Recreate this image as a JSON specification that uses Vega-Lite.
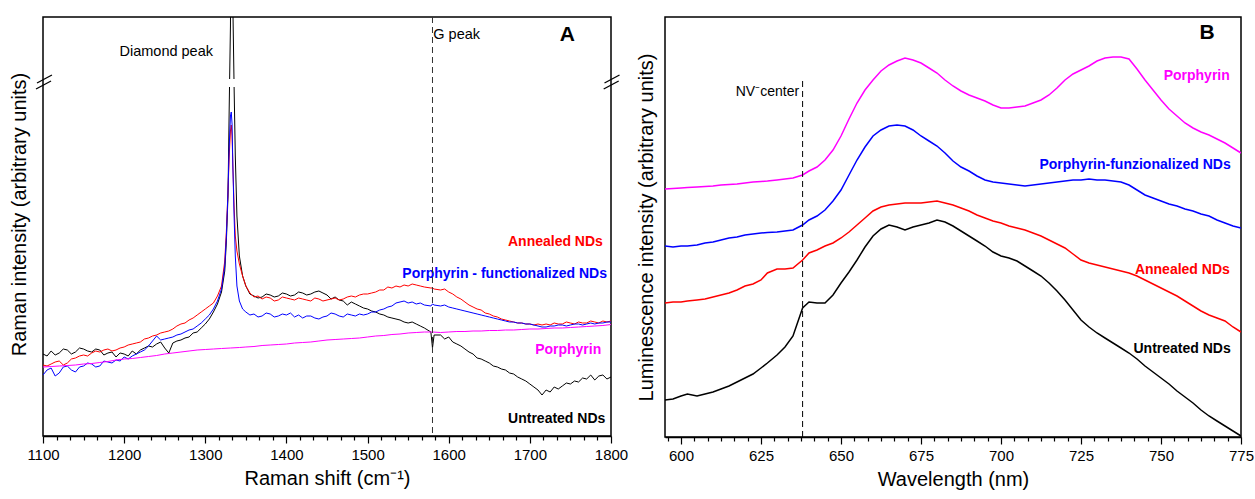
{
  "$schema": "https://vega.github.io/schema/vega-lite/v6.json",
  "padding": {"left": 8, "top": 15, "right": 0, "bottom": 0},
  "spacing": 6,
  "config": {
    "view": {"stroke": "#000000", "strokeWidth": 1.5},
    "font": "Liberation Sans",
    "axis": {"labelFont": "Liberation Sans", "labelFontSize": 15, "labelColor": "#000000", "titleFont": "Liberation Sans", "titleFontSize": 20, "titleFontWeight": "normal", "titleColor": "#000000", "domainColor": "#000000", "domainWidth": 1.5, "tickColor": "#000000", "tickWidth": 1.2, "grid": false, "labelPadding": 4, "titlePadding": 6, "labelOverlap": false, "labelFlush": false}
  },
  "datasets": {
    "raman": [
      {"x": 1100, "u": 82, "a": 71, "p": 61, "m": 69},
      {"x": 1105, "u": 80, "a": 70, "p": 66, "m": null},
      {"x": 1110, "u": 85, "a": 72, "p": 68, "m": 69.5},
      {"x": 1115, "u": 81, "a": 74, "p": 60, "m": null},
      {"x": 1120, "u": 83, "a": 75, "p": 63, "m": 70},
      {"x": 1125, "u": 87, "a": 71, "p": 69, "m": null},
      {"x": 1130, "u": 86, "a": 73, "p": 70, "m": 70.5},
      {"x": 1135, "u": 82, "a": 77, "p": 66, "m": null},
      {"x": 1140, "u": 84, "a": 78, "p": 64, "m": 71},
      {"x": 1145, "u": 88, "a": 80, "p": 69, "m": null},
      {"x": 1150, "u": 87, "a": 81, "p": 70, "m": 72},
      {"x": 1155, "u": 85, "a": 80, "p": 73, "m": null},
      {"x": 1160, "u": 84, "a": 83, "p": 72, "m": 72.5},
      {"x": 1165, "u": 87, "a": 85, "p": 69, "m": null},
      {"x": 1170, "u": 86, "a": 84, "p": 70, "m": 73.5},
      {"x": 1175, "u": 81, "a": 86, "p": 75, "m": null},
      {"x": 1180, "u": 83, "a": 87, "p": 74, "m": 74.5},
      {"x": 1185, "u": 84, "a": 85, "p": 73, "m": null},
      {"x": 1190, "u": 79, "a": 86, "p": 76, "m": 76},
      {"x": 1195, "u": 83, "a": 88, "p": 75, "m": null},
      {"x": 1200, "u": 82, "a": 89, "p": 79, "m": 77},
      {"x": 1205, "u": 80, "a": 91, "p": 77, "m": null},
      {"x": 1210, "u": 85, "a": 92, "p": 80, "m": 77.5},
      {"x": 1215, "u": 82, "a": 93, "p": 82, "m": null},
      {"x": 1220, "u": 86, "a": 94, "p": 84, "m": 78.5},
      {"x": 1225, "u": 88, "a": 97, "p": 86, "m": null},
      {"x": 1230, "u": 90, "a": 98, "p": 90, "m": 79.5},
      {"x": 1235, "u": 89, "a": 100, "p": 95, "m": null},
      {"x": 1240, "u": 92, "a": 101, "p": 100, "m": 80.5},
      {"x": 1245, "u": 94, "a": 103, "p": 96, "m": null},
      {"x": 1250, "u": 88, "a": 104, "p": 97, "m": 82},
      {"x": 1255, "u": 83, "a": 105, "p": 98, "m": null},
      {"x": 1260, "u": 93, "a": 107, "p": 99, "m": 83},
      {"x": 1265, "u": 95, "a": 110, "p": 101, "m": null},
      {"x": 1270, "u": 96, "a": 112, "p": 102, "m": 84},
      {"x": 1275, "u": 98, "a": 113, "p": 104, "m": null},
      {"x": 1280, "u": 99, "a": 116, "p": 106, "m": 85},
      {"x": 1285, "u": 103, "a": 118, "p": 107, "m": null},
      {"x": 1290, "u": 104, "a": 121, "p": 110, "m": 86},
      {"x": 1295, "u": 108, "a": 124, "p": 113, "m": null},
      {"x": 1300, "u": 112, "a": 127, "p": 117, "m": 86.5},
      {"x": 1305, "u": 117, "a": 130, "p": 121, "m": null},
      {"x": 1310, "u": 124, "a": 133, "p": 127, "m": 87},
      {"x": 1315, "u": 132, "a": 140, "p": 135, "m": null},
      {"x": 1320, "u": 144, "a": 150, "p": 147, "m": 87.5},
      {"x": 1324, "u": 165, "a": 175, "p": 170, "m": null},
      {"x": 1326, "u": 195, "a": 205, "p": 200, "m": null},
      {"x": 1328, "u": 240, "a": 245, "p": 245, "m": null},
      {"x": 1329.5, "u": 330, "a": 280, "p": 290, "m": null},
      {"x": 1331, "u": 410, "a": 305, "p": 320, "m": 88},
      {"x": 1332, "u": 520, "a": 311, "p": 324, "m": null},
      {"x": 1333, "u": 520, "a": 300, "p": 312, "m": null},
      {"x": 1334, "u": 430, "a": 270, "p": 270, "m": null},
      {"x": 1335.5, "u": 350, "a": 230, "p": 220, "m": null},
      {"x": 1337, "u": 280, "a": 200, "p": 180, "m": null},
      {"x": 1339, "u": 220, "a": 185, "p": 150, "m": null},
      {"x": 1342, "u": 180, "a": 172, "p": 135, "m": 88.5},
      {"x": 1346, "u": 160, "a": 160, "p": 127, "m": null},
      {"x": 1350, "u": 150, "a": 150, "p": 124, "m": 89},
      {"x": 1355, "u": 142, "a": 143, "p": 121, "m": null},
      {"x": 1360, "u": 140, "a": 139, "p": 122, "m": 89.5},
      {"x": 1365, "u": 138, "a": 140, "p": 119, "m": null},
      {"x": 1370, "u": 139, "a": 137, "p": 120, "m": 90.5},
      {"x": 1375, "u": 142, "a": 139, "p": 123, "m": null},
      {"x": 1380, "u": 141, "a": 138, "p": 122, "m": 91},
      {"x": 1385, "u": 139, "a": 135, "p": 119, "m": null},
      {"x": 1390, "u": 140, "a": 136, "p": 120, "m": 91.5},
      {"x": 1395, "u": 143, "a": 139, "p": 122, "m": null},
      {"x": 1400, "u": 142, "a": 138, "p": 121, "m": 92},
      {"x": 1405, "u": 140, "a": 137, "p": 123, "m": null},
      {"x": 1410, "u": 141, "a": 136, "p": 119, "m": 93},
      {"x": 1415, "u": 144, "a": 138, "p": 121, "m": null},
      {"x": 1420, "u": 143, "a": 137, "p": 118, "m": 93.5},
      {"x": 1425, "u": 141, "a": 136, "p": 120, "m": null},
      {"x": 1430, "u": 142, "a": 135, "p": 120, "m": 94},
      {"x": 1435, "u": 144, "a": 138, "p": 118, "m": null},
      {"x": 1440, "u": 145, "a": 137, "p": 117, "m": 95},
      {"x": 1445, "u": 143, "a": 135, "p": 119, "m": null},
      {"x": 1450, "u": 141, "a": 136, "p": 120, "m": 96},
      {"x": 1455, "u": 137, "a": 137, "p": 123, "m": null},
      {"x": 1460, "u": 139, "a": 138, "p": 122, "m": 96.5},
      {"x": 1465, "u": 136, "a": 136, "p": 120, "m": null},
      {"x": 1470, "u": 135, "a": 137, "p": 119, "m": 97},
      {"x": 1475, "u": 131, "a": 139, "p": 122, "m": null},
      {"x": 1480, "u": 134, "a": 140, "p": 121, "m": 97.5},
      {"x": 1485, "u": 132, "a": 139, "p": 120, "m": null},
      {"x": 1490, "u": 130, "a": 141, "p": 122, "m": 98},
      {"x": 1495, "u": 128, "a": 142, "p": 121, "m": null},
      {"x": 1500, "u": 127, "a": 142, "p": 122, "m": 99},
      {"x": 1505, "u": 125, "a": 143, "p": 124, "m": null},
      {"x": 1510, "u": 124, "a": 144, "p": 124, "m": 100},
      {"x": 1515, "u": 122, "a": 146, "p": 126, "m": null},
      {"x": 1520, "u": 121, "a": 146, "p": 127, "m": 100.5},
      {"x": 1525, "u": 119, "a": 149, "p": 129, "m": null},
      {"x": 1530, "u": 118, "a": 148, "p": 130, "m": 101.5},
      {"x": 1535, "u": 117, "a": 150, "p": 133, "m": null},
      {"x": 1540, "u": 116, "a": 149, "p": 134, "m": 102},
      {"x": 1545, "u": 114, "a": 151, "p": 135, "m": null},
      {"x": 1550, "u": 113, "a": 150, "p": 133, "m": 103},
      {"x": 1555, "u": 114, "a": 152, "p": 134, "m": null},
      {"x": 1560, "u": 112, "a": 151, "p": 132, "m": 103.5},
      {"x": 1565, "u": 110, "a": 150, "p": 133, "m": null},
      {"x": 1570, "u": 108, "a": 149, "p": 131, "m": 104},
      {"x": 1578, "u": 104, "a": 148, "p": 130, "m": null},
      {"x": 1580, "u": 88, "a": 148, "p": 132, "m": 104},
      {"x": 1582, "u": 101, "a": 147, "p": 131, "m": null},
      {"x": 1590, "u": 101, "a": 146, "p": 130, "m": 103.5},
      {"x": 1595, "u": 97, "a": 147, "p": 131, "m": null},
      {"x": 1600, "u": 99, "a": 144, "p": 129, "m": 104},
      {"x": 1605, "u": 94, "a": 142, "p": 128, "m": null},
      {"x": 1610, "u": 92, "a": 139, "p": 127, "m": 104.5},
      {"x": 1615, "u": 90, "a": 137, "p": 126, "m": null},
      {"x": 1620, "u": 87, "a": 134, "p": 125, "m": 104.5},
      {"x": 1625, "u": 84, "a": 131, "p": 124, "m": null},
      {"x": 1630, "u": 82, "a": 129, "p": 123, "m": 105},
      {"x": 1635, "u": 78, "a": 127, "p": 122, "m": null},
      {"x": 1640, "u": 77, "a": 126, "p": 121, "m": 105},
      {"x": 1645, "u": 75, "a": 123, "p": 120, "m": null},
      {"x": 1650, "u": 73, "a": 122, "p": 119, "m": 105.5},
      {"x": 1655, "u": 70, "a": 120, "p": 118, "m": null},
      {"x": 1660, "u": 69, "a": 119, "p": 117, "m": 105.5},
      {"x": 1665, "u": 67, "a": 117, "p": 116, "m": null},
      {"x": 1670, "u": 66, "a": 116, "p": 115, "m": 106},
      {"x": 1675, "u": 63, "a": 115, "p": 114, "m": null},
      {"x": 1680, "u": 62, "a": 114, "p": 114, "m": 106},
      {"x": 1685, "u": 59, "a": 113, "p": 113, "m": null},
      {"x": 1690, "u": 57, "a": 113, "p": 113, "m": 106.5},
      {"x": 1695, "u": 55, "a": 112, "p": 112, "m": null},
      {"x": 1700, "u": 52, "a": 112, "p": 112, "m": 107},
      {"x": 1705, "u": 49, "a": 111, "p": 111, "m": null},
      {"x": 1710, "u": 46, "a": 112, "p": 110, "m": 107},
      {"x": 1715, "u": 41, "a": 111, "p": 109, "m": null},
      {"x": 1720, "u": 46, "a": 112, "p": 109, "m": 107.5},
      {"x": 1725, "u": 44, "a": 111, "p": 110, "m": null},
      {"x": 1730, "u": 49, "a": 113, "p": 110, "m": 108},
      {"x": 1735, "u": 47, "a": 112, "p": 111, "m": null},
      {"x": 1740, "u": 50, "a": 112, "p": 111, "m": 108},
      {"x": 1745, "u": 53, "a": 114, "p": 110, "m": null},
      {"x": 1750, "u": 52, "a": 113, "p": 111, "m": 108.5},
      {"x": 1755, "u": 55, "a": 112, "p": 112, "m": null},
      {"x": 1760, "u": 54, "a": 114, "p": 112, "m": 109},
      {"x": 1765, "u": 58, "a": 113, "p": 111, "m": null},
      {"x": 1770, "u": 57, "a": 113, "p": 112, "m": 109.5},
      {"x": 1775, "u": 61, "a": 115, "p": 113, "m": null},
      {"x": 1780, "u": 56, "a": 114, "p": 112, "m": 110},
      {"x": 1785, "u": 60, "a": 113, "p": 113, "m": null},
      {"x": 1790, "u": 61, "a": 115, "p": 113, "m": 110.5},
      {"x": 1795, "u": 57, "a": 114, "p": 114, "m": null},
      {"x": 1800, "u": 59, "a": 115, "p": 114, "m": 111.5}
    ],
    "lum": [
      {"x": 595, "u": 37, "a": 134, "p": 191, "m": 248},
      {"x": 597.5, "u": 38, "a": 135, "p": 190, "m": 248.5},
      {"x": 600, "u": 41, "a": 135, "p": 191, "m": 249},
      {"x": 602, "u": 43, "a": 136, "p": 191, "m": 249.5},
      {"x": 605, "u": 41, "a": 137, "p": 192, "m": 250},
      {"x": 607.5, "u": 43, "a": 138, "p": 194, "m": 250.5},
      {"x": 610, "u": 45, "a": 140, "p": 195, "m": 251},
      {"x": 612.5, "u": 48, "a": 142, "p": 197, "m": 252},
      {"x": 615, "u": 51, "a": 144, "p": 199, "m": 252.5},
      {"x": 617.5, "u": 55, "a": 147, "p": 200, "m": 253},
      {"x": 620, "u": 59, "a": 151, "p": 202, "m": 254},
      {"x": 622.5, "u": 63, "a": 153, "p": 203, "m": 255},
      {"x": 625, "u": 69, "a": 157, "p": 204, "m": 255.5},
      {"x": 627, "u": 74, "a": 164, "p": 204.5, "m": 256},
      {"x": 630, "u": 82, "a": 168, "p": 205, "m": 257},
      {"x": 632.5, "u": 90, "a": 168, "p": 206, "m": 258},
      {"x": 635, "u": 101, "a": 169, "p": 207, "m": 259},
      {"x": 638, "u": 129, "a": 177, "p": 212, "m": 262},
      {"x": 640, "u": 135, "a": 184, "p": 217, "m": 266},
      {"x": 642.5, "u": 134, "a": 187, "p": 221, "m": 270},
      {"x": 645, "u": 134, "a": 191, "p": 227, "m": 277},
      {"x": 647.5, "u": 142, "a": 194, "p": 236, "m": 287},
      {"x": 650, "u": 154, "a": 199, "p": 247, "m": 301},
      {"x": 652.5, "u": 165, "a": 205, "p": 262, "m": 318},
      {"x": 655, "u": 177, "a": 212, "p": 277, "m": 334},
      {"x": 657.5, "u": 190, "a": 219, "p": 290, "m": 347},
      {"x": 660, "u": 201, "a": 226, "p": 301, "m": 357},
      {"x": 662.5, "u": 208, "a": 230, "p": 307, "m": 366},
      {"x": 665, "u": 212, "a": 232, "p": 311, "m": 372},
      {"x": 667.5, "u": 210, "a": 233, "p": 312, "m": 376},
      {"x": 670, "u": 207, "a": 234, "p": 311, "m": 379},
      {"x": 672.5, "u": 210, "a": 234, "p": 307, "m": 377},
      {"x": 675, "u": 212, "a": 234, "p": 301, "m": 374},
      {"x": 677.5, "u": 214, "a": 235, "p": 296, "m": 369},
      {"x": 680, "u": 217, "a": 236, "p": 291, "m": 364},
      {"x": 682.5, "u": 215, "a": 234, "p": 284, "m": 357},
      {"x": 685, "u": 211, "a": 232, "p": 276, "m": 351},
      {"x": 687.5, "u": 206, "a": 229, "p": 270, "m": 346},
      {"x": 690, "u": 201, "a": 226, "p": 266, "m": 342},
      {"x": 692.5, "u": 196, "a": 222, "p": 261, "m": 339},
      {"x": 695, "u": 191, "a": 219, "p": 257, "m": 336},
      {"x": 697.5, "u": 185, "a": 216, "p": 255, "m": 332},
      {"x": 700, "u": 181, "a": 214, "p": 254, "m": 329},
      {"x": 702.5, "u": 179, "a": 211, "p": 253, "m": 329},
      {"x": 705, "u": 176, "a": 209, "p": 252, "m": 330},
      {"x": 707.5, "u": 171, "a": 207, "p": 251, "m": 331},
      {"x": 710, "u": 166, "a": 204, "p": 252, "m": 334},
      {"x": 712.5, "u": 161, "a": 201, "p": 253, "m": 337},
      {"x": 715, "u": 154, "a": 197, "p": 254, "m": 342},
      {"x": 717.5, "u": 146, "a": 193, "p": 255, "m": 349},
      {"x": 720, "u": 137, "a": 189, "p": 256, "m": 357},
      {"x": 722.5, "u": 127, "a": 183, "p": 257, "m": 363},
      {"x": 725, "u": 117, "a": 177, "p": 257, "m": 367},
      {"x": 727.5, "u": 110, "a": 174, "p": 258, "m": 371},
      {"x": 730, "u": 104, "a": 172, "p": 257, "m": 376},
      {"x": 732.5, "u": 99, "a": 170, "p": 257, "m": 379},
      {"x": 735, "u": 94, "a": 168, "p": 256, "m": 380},
      {"x": 737.5, "u": 89, "a": 166, "p": 255, "m": 380},
      {"x": 740, "u": 84, "a": 164, "p": 252, "m": 378},
      {"x": 742.5, "u": 78, "a": 161, "p": 247, "m": 368},
      {"x": 745, "u": 71, "a": 157, "p": 242, "m": 357},
      {"x": 747.5, "u": 65, "a": 153, "p": 239, "m": 347},
      {"x": 750, "u": 59, "a": 149, "p": 236, "m": 337},
      {"x": 752.5, "u": 53, "a": 145, "p": 233, "m": 328},
      {"x": 755, "u": 46, "a": 141, "p": 231, "m": 321},
      {"x": 757.5, "u": 40, "a": 136, "p": 228, "m": 314},
      {"x": 760, "u": 34, "a": 131, "p": 226, "m": 309},
      {"x": 762.5, "u": 27, "a": 126, "p": 223, "m": 305},
      {"x": 765, "u": 21, "a": 122, "p": 221, "m": 302},
      {"x": 767.5, "u": 16, "a": 119, "p": 217, "m": 298},
      {"x": 770, "u": 11, "a": 116, "p": 214, "m": 294},
      {"x": 772.5, "u": 6, "a": 110, "p": 211, "m": 289},
      {"x": 775, "u": 1, "a": 105, "p": 209, "m": 284}
    ],
    "labelsA": [
      {"s": "a", "label": "Annealed NDs", "x": 1790, "y": 194},
      {"s": "p", "label": "Porphyrin - functionalized NDs", "x": 1795, "y": 162},
      {"s": "m", "label": "Porphyrin", "x": 1788, "y": 86},
      {"s": "u", "label": "Untreated NDs", "x": 1793, "y": 17}
    ],
    "labelsB": [
      {"s": "m", "label": "Porphyrin", "x": 771.5, "y": 361},
      {"s": "p", "label": "Porphyrin-funzionalized NDs", "x": 771.8, "y": 272},
      {"s": "a", "label": "Annealed NDs", "x": 771.5, "y": 167},
      {"s": "u", "label": "Untreated NDs", "x": 771.8, "y": 88}
    ]
  },
  "hconcat": [
    {
      "width": 568,
      "height": 419,
      "resolve": {"axis": {"x": "independent"}},
      "layer": [
        {
          "layer": [
            {
              "data": {"name": "raman"},
              "transform": [{"fold": ["u", "a", "p", "m"], "as": ["s", "v"]}, {"filter": "isValid(datum.v)"}],
              "mark": {"type": "line", "clip": true, "strokeWidth": 1},
              "encoding": {
                "x": {"field": "x", "type": "quantitative", "scale": {"domain": [1100, 1800], "nice": false, "zero": false},
                  "axis": {"title": "Raman shift (cm⁻¹)", "orient": "bottom", "values": [1100, 1200, 1300, 1400, 1500, 1600, 1700, 1800], "format": "d", "tickSize": 7}},
                "y": {"field": "v", "type": "quantitative", "scale": {"domain": [0, 419], "nice": false, "zero": false},
                  "axis": {"title": "Raman intensity (arbitrary units)", "ticks": false, "labels": false, "domain": false, "titlePadding": 14, "titleY": 197}},
                "color": {"field": "s", "type": "nominal", "scale": {"domain": ["u", "a", "p", "m"], "range": ["#000000", "#ff0000", "#0000ff", "#ff00ff"]}, "legend": null}
              }
            },
            {
              "data": {"values": [{"x1": 1326, "x2": 1339, "y1": 349, "y2": 357}]},
              "mark": {"type": "rect", "fill": "#ffffff"},
              "encoding": {
                "x": {"field": "x1", "type": "quantitative", "scale": {"domain": [1100, 1800], "nice": false, "zero": false}},
                "x2": {"field": "x2"},
                "y": {"field": "y1", "type": "quantitative", "scale": {"domain": [0, 419], "nice": false, "zero": false}},
                "y2": {"field": "y2"}
              }
            },
            {
              "data": {"values": [
                {"x1": 1091.4, "y1": 347, "x2": 1109.9, "y2": 355},
                {"x1": 1092.6, "y1": 353, "x2": 1111, "y2": 361},
                {"x1": 1791, "y1": 347, "x2": 1809.5, "y2": 355},
                {"x1": 1792, "y1": 353, "x2": 1810.5, "y2": 361}
              ]},
              "mark": {"type": "rule", "color": "#000000", "strokeWidth": 1.3},
              "encoding": {
                "x": {"field": "x1", "type": "quantitative", "scale": {"domain": [1100, 1800], "nice": false, "zero": false}},
                "x2": {"field": "x2"},
                "y": {"field": "y1", "type": "quantitative", "scale": {"domain": [0, 419], "nice": false, "zero": false}},
                "y2": {"field": "y2"}
              }
            },
            {
              "data": {"name": "labelsA"},
              "mark": {"type": "text", "align": "right", "baseline": "middle", "fontSize": 14, "fontWeight": "bold", "font": "Liberation Sans"},
              "encoding": {
                "x": {"field": "x", "type": "quantitative", "scale": {"domain": [1100, 1800], "nice": false, "zero": false}},
                "y": {"field": "y", "type": "quantitative", "scale": {"domain": [0, 419], "nice": false, "zero": false}},
                "text": {"field": "label"},
                "color": {"field": "s", "type": "nominal", "scale": {"domain": ["u", "a", "p", "m"], "range": ["#000000", "#ff0000", "#0000ff", "#ff00ff"]}, "legend": null}
              }
            },
            {
              "data": {"values": [
                {"label": "Diamond peak", "x": 1309.5, "y": 384, "al": "right"},
                {"label": "G peak", "x": 1581, "y": 401, "al": "left"}
              ]},
              "mark": {"type": "text", "baseline": "middle", "fontSize": 14.5, "font": "Liberation Sans", "color": "#000000", "align": {"expr": "datum.al"}},
              "encoding": {
                "x": {"field": "x", "type": "quantitative", "scale": {"domain": [1100, 1800], "nice": false, "zero": false}},
                "y": {"field": "y", "type": "quantitative", "scale": {"domain": [0, 419], "nice": false, "zero": false}},
                "text": {"field": "label"}
              }
            },
            {
              "data": {"values": [{"label": "A", "x": 1755.6, "y": 401}]},
              "mark": {"type": "text", "align": "right", "baseline": "middle", "fontSize": 21, "fontWeight": "bold", "font": "Liberation Sans", "color": "#000000"},
              "encoding": {
                "x": {"field": "x", "type": "quantitative", "scale": {"domain": [1100, 1800], "nice": false, "zero": false}},
                "y": {"field": "y", "type": "quantitative", "scale": {"domain": [0, 419], "nice": false, "zero": false}},
                "text": {"field": "label"}
              }
            }
          ]
        },
        {
          "data": {"values": [{"x": 1580}]},
          "mark": {"type": "rule", "color": "#333333", "strokeDash": [6, 4], "strokeWidth": 1},
          "encoding": {
            "x": {"field": "x", "type": "quantitative", "scale": {"domain": [1100, 1800], "nice": false, "zero": false},
              "axis": {"orient": "bottom", "title": null, "labels": false, "domain": false, "tickSize": 4,
                "values": [1116.667, 1133.333, 1150, 1166.667, 1183.333, 1216.667, 1233.333, 1250, 1266.667, 1283.333, 1316.667, 1333.333, 1350, 1366.667, 1383.333, 1416.667, 1433.333, 1450, 1466.667, 1483.333, 1516.667, 1533.333, 1550, 1566.667, 1583.333, 1616.667, 1633.333, 1650, 1666.667, 1683.333, 1716.667, 1733.333, 1750, 1766.667, 1783.333]}}
          }
        }
      ]
    },
    {
      "width": 576,
      "height": 420,
      "resolve": {"axis": {"x": "independent"}},
      "layer": [
        {
          "layer": [
            {
              "data": {"name": "lum"},
              "transform": [{"fold": ["u", "a", "p", "m"], "as": ["s", "v"]}, {"filter": "isValid(datum.v)"}],
              "mark": {"type": "line", "clip": true, "strokeWidth": 1.5},
              "encoding": {
                "x": {"field": "x", "type": "quantitative", "scale": {"domain": [595, 775], "nice": false, "zero": false},
                  "axis": {"title": "Wavelength (nm)", "orient": "bottom", "values": [600, 625, 650, 675, 700, 725, 750, 775], "format": "d", "tickSize": 7}},
                "y": {"field": "v", "type": "quantitative", "scale": {"domain": [0, 420], "nice": false, "zero": false},
                  "axis": {"title": "Luminescence intensity (arbitrary units)", "ticks": false, "labels": false, "domain": false, "titlePadding": 9}},
                "color": {"field": "s", "type": "nominal", "scale": {"domain": ["u", "a", "p", "m"], "range": ["#000000", "#ff0000", "#0000ff", "#ff00ff"]}, "legend": null}
              }
            },
            {
              "data": {"name": "labelsB"},
              "mark": {"type": "text", "align": "right", "baseline": "middle", "fontSize": 14, "fontWeight": "bold", "font": "Liberation Sans"},
              "encoding": {
                "x": {"field": "x", "type": "quantitative", "scale": {"domain": [595, 775], "nice": false, "zero": false}},
                "y": {"field": "y", "type": "quantitative", "scale": {"domain": [0, 420], "nice": false, "zero": false}},
                "text": {"field": "label"},
                "color": {"field": "s", "type": "nominal", "scale": {"domain": ["u", "a", "p", "m"], "range": ["#000000", "#ff0000", "#0000ff", "#ff00ff"]}, "legend": null}
              }
            },
            {
              "data": {"values": [{"label": "NV⁻center", "x": 636.9, "y": 345}]},
              "mark": {"type": "text", "align": "right", "baseline": "middle", "fontSize": 14, "font": "Liberation Sans", "color": "#000000"},
              "encoding": {
                "x": {"field": "x", "type": "quantitative", "scale": {"domain": [595, 775], "nice": false, "zero": false}},
                "y": {"field": "y", "type": "quantitative", "scale": {"domain": [0, 420], "nice": false, "zero": false}},
                "text": {"field": "label"}
              }
            },
            {
              "data": {"values": [{"label": "B", "x": 766.8, "y": 404}]},
              "mark": {"type": "text", "align": "right", "baseline": "middle", "fontSize": 21, "fontWeight": "bold", "font": "Liberation Sans", "color": "#000000"},
              "encoding": {
                "x": {"field": "x", "type": "quantitative", "scale": {"domain": [595, 775], "nice": false, "zero": false}},
                "y": {"field": "y", "type": "quantitative", "scale": {"domain": [0, 420], "nice": false, "zero": false}},
                "text": {"field": "label"}
              }
            }
          ]
        },
        {
          "data": {"values": [{"x": 638, "y1": 0, "y2": 357}]},
          "mark": {"type": "rule", "color": "#000000", "strokeDash": [6, 4], "strokeWidth": 1},
          "encoding": {
            "x": {"field": "x", "type": "quantitative", "scale": {"domain": [595, 775], "nice": false, "zero": false},
              "axis": {"orient": "bottom", "title": null, "labels": false, "domain": false, "tickSize": 4,
                "values": [595.833, 604.167, 608.333, 612.5, 616.667, 620.833, 629.167, 633.333, 637.5, 641.667, 645.833, 654.167, 658.333, 662.5, 666.667, 670.833, 679.167, 683.333, 687.5, 691.667, 695.833, 704.167, 708.333, 712.5, 716.667, 720.833, 729.167, 733.333, 737.5, 741.667, 745.833, 754.167, 758.333, 762.5, 766.667, 770.833]}},
            "y": {"field": "y1", "type": "quantitative", "scale": {"domain": [0, 420], "nice": false, "zero": false}},
            "y2": {"field": "y2"}
          }
        }
      ]
    }
  ]
}
